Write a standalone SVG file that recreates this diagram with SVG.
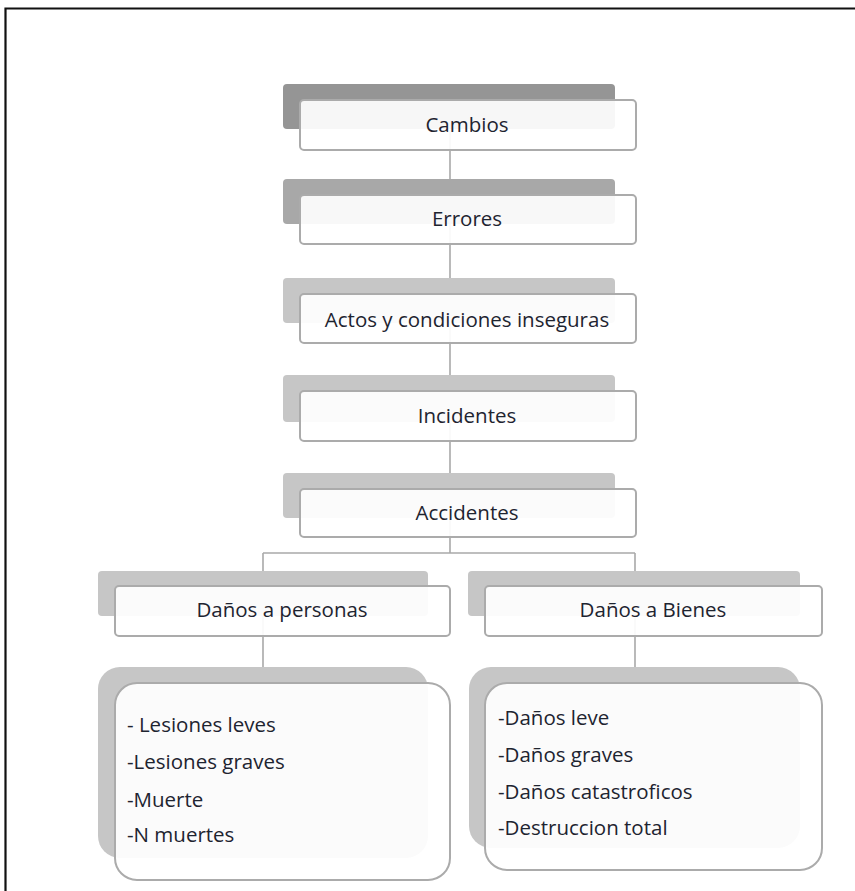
<svg xmlns="http://www.w3.org/2000/svg" width="855" height="891" viewBox="0 0 855 891">
<style>
.bg{fill:#c6c6c6}
.fr{fill:#ffffff;fill-opacity:0.92;stroke:#ababab;stroke-width:2}
.t{font-family:"Open Sans","DejaVu Sans",sans-serif;font-size:20.5px;font-weight:500;fill:#1e2430;text-anchor:middle}
.l{font-family:"Open Sans","DejaVu Sans",sans-serif;font-size:20.5px;font-weight:500;fill:#1e2430}
.c{stroke:#a9a9a9;stroke-width:1.6;fill:none}
</style>
<rect x="0" y="0" width="855" height="891" fill="#ffffff"/>
<path d="M5.5 891 V8.5 H855" fill="none" stroke="#111" stroke-width="2.2"/>
<g id="connectors">
<path class="c" d="M450 130 V179 M450 224 V278 M450 323 V375 M450 422 V473 M450 518 V553 M263 553 H635 M263 553 V571 M635 553 V571 M263 616 V667 M635 616 V667"/>
</g>
<g id="n-cambios">
<rect x="283" y="84" width="332" height="45" rx="4" fill="#959595"/>
<rect x="300" y="100" width="336" height="50" rx="4" class="fr"/>
<text x="467" y="132" class="t">Cambios</text>
</g>
<g id="n-errores">
<rect x="283" y="179" width="332" height="45" rx="4" fill="#a8a8a8"/>
<rect x="300" y="195" width="336" height="49" rx="4" class="fr"/>
<text x="467" y="226" class="t">Errores</text>
</g>
<g id="n-actos">
<rect x="283" y="278" width="332" height="45" rx="4" class="bg"/>
<rect x="300" y="294" width="336" height="49" rx="4" class="fr"/>
<text x="467" y="327" class="t">Actos y condiciones inseguras</text>
</g>
<g id="n-incidentes">
<rect x="283" y="375" width="332" height="47" rx="4" class="bg"/>
<rect x="300" y="391" width="336" height="50" rx="4" class="fr"/>
<text x="467" y="423" class="t">Incidentes</text>
</g>
<g id="n-accidentes">
<rect x="283" y="473" width="332" height="45" rx="4" class="bg"/>
<rect x="300" y="489" width="336" height="48" rx="4" class="fr"/>
<text x="467" y="520" class="t">Accidentes</text>
</g>
<g id="n-personas">
<rect x="98" y="571" width="330" height="45" rx="4" class="bg"/>
<rect x="115" y="586" width="335" height="50" rx="4" class="fr"/>
<text x="282" y="617" class="t">Daños a personas</text>
</g>
<g id="n-bienes">
<rect x="468" y="571" width="332" height="45" rx="4" class="bg"/>
<rect x="485" y="586" width="337" height="50" rx="4" class="fr"/>
<text x="653" y="617" class="t">Daños a Bienes</text>
</g>
<g id="n-lesiones">
<rect x="98" y="667" width="330" height="191" rx="22" class="bg"/>
<rect x="115" y="683" width="335" height="197" rx="22" class="fr"/>
<text x="127" y="732" class="l">- Lesiones leves</text>
<text x="127" y="769" class="l">-Lesiones graves</text>
<text x="127" y="807" class="l">-Muerte</text>
<text x="127" y="842" class="l">-N muertes</text>
</g>
<g id="n-danos">
<rect x="469" y="667" width="331" height="181" rx="22" class="bg"/>
<rect x="485" y="683" width="337" height="187" rx="22" class="fr"/>
<text x="498" y="725" class="l">-Daños leve</text>
<text x="498" y="762" class="l">-Daños graves</text>
<text x="498" y="799" class="l">-Daños catastroficos</text>
<text x="498" y="835" class="l">-Destruccion total</text>
</g>
</svg>
